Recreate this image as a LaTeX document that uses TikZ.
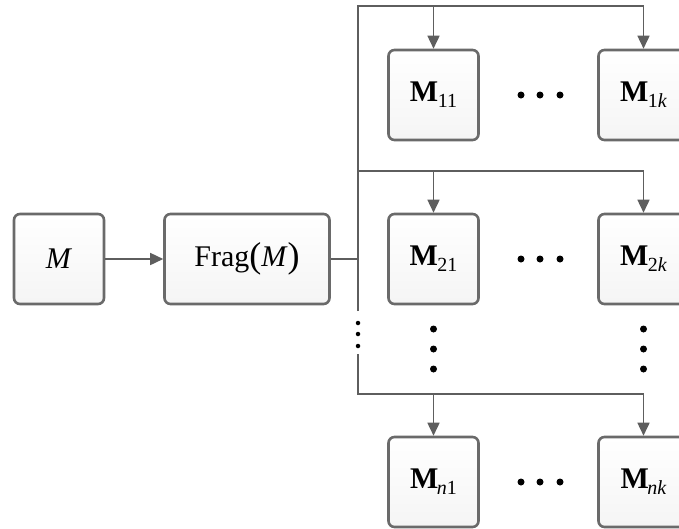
\documentclass[tikz,border=0pt]{standalone}
\usepackage{fontspec}
\setmainfont{Liberation Serif}
\usetikzlibrary{arrows.meta}
\definecolor{ln}{HTML}{5E5E5E}
\definecolor{bd}{HTML}{6A6A6A}
\tikzset{
  box/.style={draw=bd, line width=2.6pt, rounded corners=6pt, top color=white, bottom color=black!4,
    minimum height=90pt, inner sep=0pt, font=\fontsize{30}{32}\selectfont},
  sq/.style={box, minimum width=90pt},
  conn/.style={draw=ln, line width=1.6pt},
  arr/.style={conn, -{Triangle[length=13pt,width=12pt]}},
  dot/.style={circle, fill=black, inner sep=0pt, minimum size=7pt},
  sdot/.style={circle, fill=black, inner sep=0pt, minimum size=4.5pt},
}
\newcommand{\mysub}[1]{\raisebox{-0.45ex}{\fontsize{20}{22}\selectfont #1}}
\newcommand{\MB}[1]{\textbf{M}\kern-0.5pt\mysub{#1}}
\begin{document}
\begin{tikzpicture}[x=1pt,y=-1pt]
\clip (0,0) rectangle (679,528);
\fill[white] (0,0) rectangle (679,528);
\node[sq] (m) at (59,259) {\textit{M}};
\node[box, minimum width=165pt] (frag) at (247,259) {Frag\raisebox{-0.1ex}{\fontsize{36}{38}\selectfont(}\textit{M}\raisebox{-0.1ex}{\fontsize{36}{38}\selectfont)}};
\node[sq] (m11) at (433.5,95) {\MB{11}};
\node[sq] (m1k) at (643.5,95) {\MB{1\textit{k}}};
\node[sq] (m21) at (433.5,259) {\MB{21}};
\node[sq] (m2k) at (643.5,259) {\MB{2\textit{k}}};
\node[sq] (mn1) at (433.5,482) {\MB{\kern-1pt\textit{n}1}};
\node[sq] (mnk) at (643.5,482) {\MB{\kern-1pt\textit{nk}}};
\coordinate (t1) at (358,6);
\coordinate (t2) at (358,171);
\coordinate (t3) at (358,394);
\coordinate (ga) at (358,311);
\coordinate (gb) at (358,354);
\coordinate (j) at (358,259);
\draw[arr] (m) -- (frag);
\draw[conn] (frag) -- (j);
\draw[conn] (ga) -- (t1) -- (t1 -| m1k.north);
\draw[conn] (gb) -- (t3) -- (t3 -| mnk.north);
\draw[conn] (t2) -- (t2 -| m2k.north);
\draw[arr] (t1 -| m11.north) -- (m11.north);
\draw[arr] (t1 -| m1k.north) -- (m1k.north);
\draw[arr] (t2 -| m21.north) -- (m21.north);
\draw[arr] (t2 -| m2k.north) -- (m2k.north);
\draw[arr] (t3 -| mn1.north) -- (mn1.north);
\draw[arr] (t3 -| mnk.north) -- (mnk.north);
\foreach \y in {323,334,346} \node[sdot] at (358,\y) {};
\foreach \r in {95,259,482} \foreach \x in {521,540,560} \node[dot] at (\x,\r) {};
\foreach \x in {433.5,643.5} \foreach \y in {329,349,369} \node[dot] at (\x,\y) {};
\end{tikzpicture}
\end{document}
